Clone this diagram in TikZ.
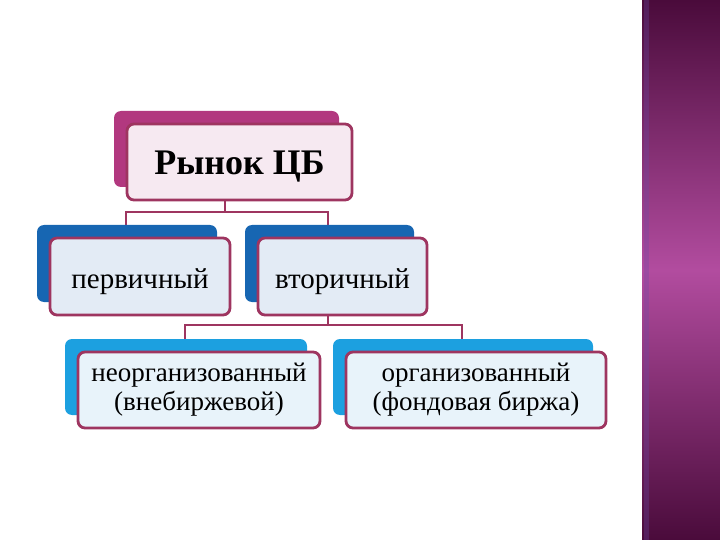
\documentclass[tikz,border=0pt]{standalone}
\usepackage{fontspec}
\setmainfont{Liberation Serif}
\usetikzlibrary{shadows}

\definecolor{rim}{HTML}{9E3560}
\definecolor{topback}{HTML}{B2387F}
\definecolor{topfill}{HTML}{F6E9F1}
\definecolor{midback}{HTML}{1766B2}
\definecolor{midfill}{HTML}{E3EBF5}
\definecolor{lowback}{HTML}{1CA0E0}
\definecolor{lowfill}{HTML}{E8F3FA}
\definecolor{sidedark}{HTML}{4A0B3B}
\definecolor{sidelight}{HTML}{B24C9F}
\definecolor{sidestripe}{HTML}{6A4AA8}

\tikzset{
  cardbox/.style={draw=rim, line width=2.8pt, rounded corners=7pt,
    align=center, inner sep=0pt},
  topbox/.style={cardbox, fill=topfill, minimum width=225pt, minimum height=76pt,
    font=\fontsize{36}{40}\selectfont\bfseries,
    execute at begin node={\rule{0pt}{32pt}},
    copy shadow={shadow xshift=-13pt, shadow yshift=13pt, fill=topback, draw=none}},
  midbox/.style={cardbox, fill=midfill, minimum height=77pt,
    font=\fontsize{29}{32}\selectfont,
    execute at begin node={\rule{0pt}{30pt}},
    copy shadow={shadow xshift=-13pt, shadow yshift=13pt, fill=midback, draw=none}},
  lowbox/.style={cardbox, fill=lowfill, minimum height=76pt,
    font=\fontsize{27}{29}\selectfont,
    execute at begin node={\rule{0pt}{29pt}},
    copy shadow={shadow xshift=-13pt, shadow yshift=13pt, fill=lowback, draw=none}},
  link/.style={draw=rim, line width=2.8pt}
}

\begin{document}
\begin{tikzpicture}[x=1pt, y=-1pt]
  \useasboundingbox (0,0) rectangle (720,540);

  % side panel
  \shade[top color=sidedark, bottom color=sidedark, middle color=sidelight]
    (642,0) rectangle (720,540);
  \fill[sidestripe, opacity=0.3] (644,0) rectangle (649,540);

  % connectors
  \coordinate (bar1) at (225,212);
  \coordinate (bar2) at (328,325);
  \draw[link] (225,200) -- (bar1);
  \draw[link] (126,226) |- (bar1) -| (328,226);
  \draw[link] (328,315) -- (bar2);
  \draw[link] (185,340) |- (bar2) -| (462,340);

  % boxes
  \node[topbox] (rynok) at (239.5,162) {Рынок ЦБ};

  \node[midbox, minimum width=180pt] (perv) at (140,276.5) {первичный};
  \node[midbox, minimum width=169pt] (vtor) at (342.5,276.5) {вторичный};

  \node[lowbox, minimum width=242pt] (neorg) at (199,390)
    {неорганизованный\\(внебиржевой)};
  \node[lowbox, minimum width=260pt] (org) at (476,390)
    {организованный\\(фондовая биржа)};
\end{tikzpicture}
\end{document}
